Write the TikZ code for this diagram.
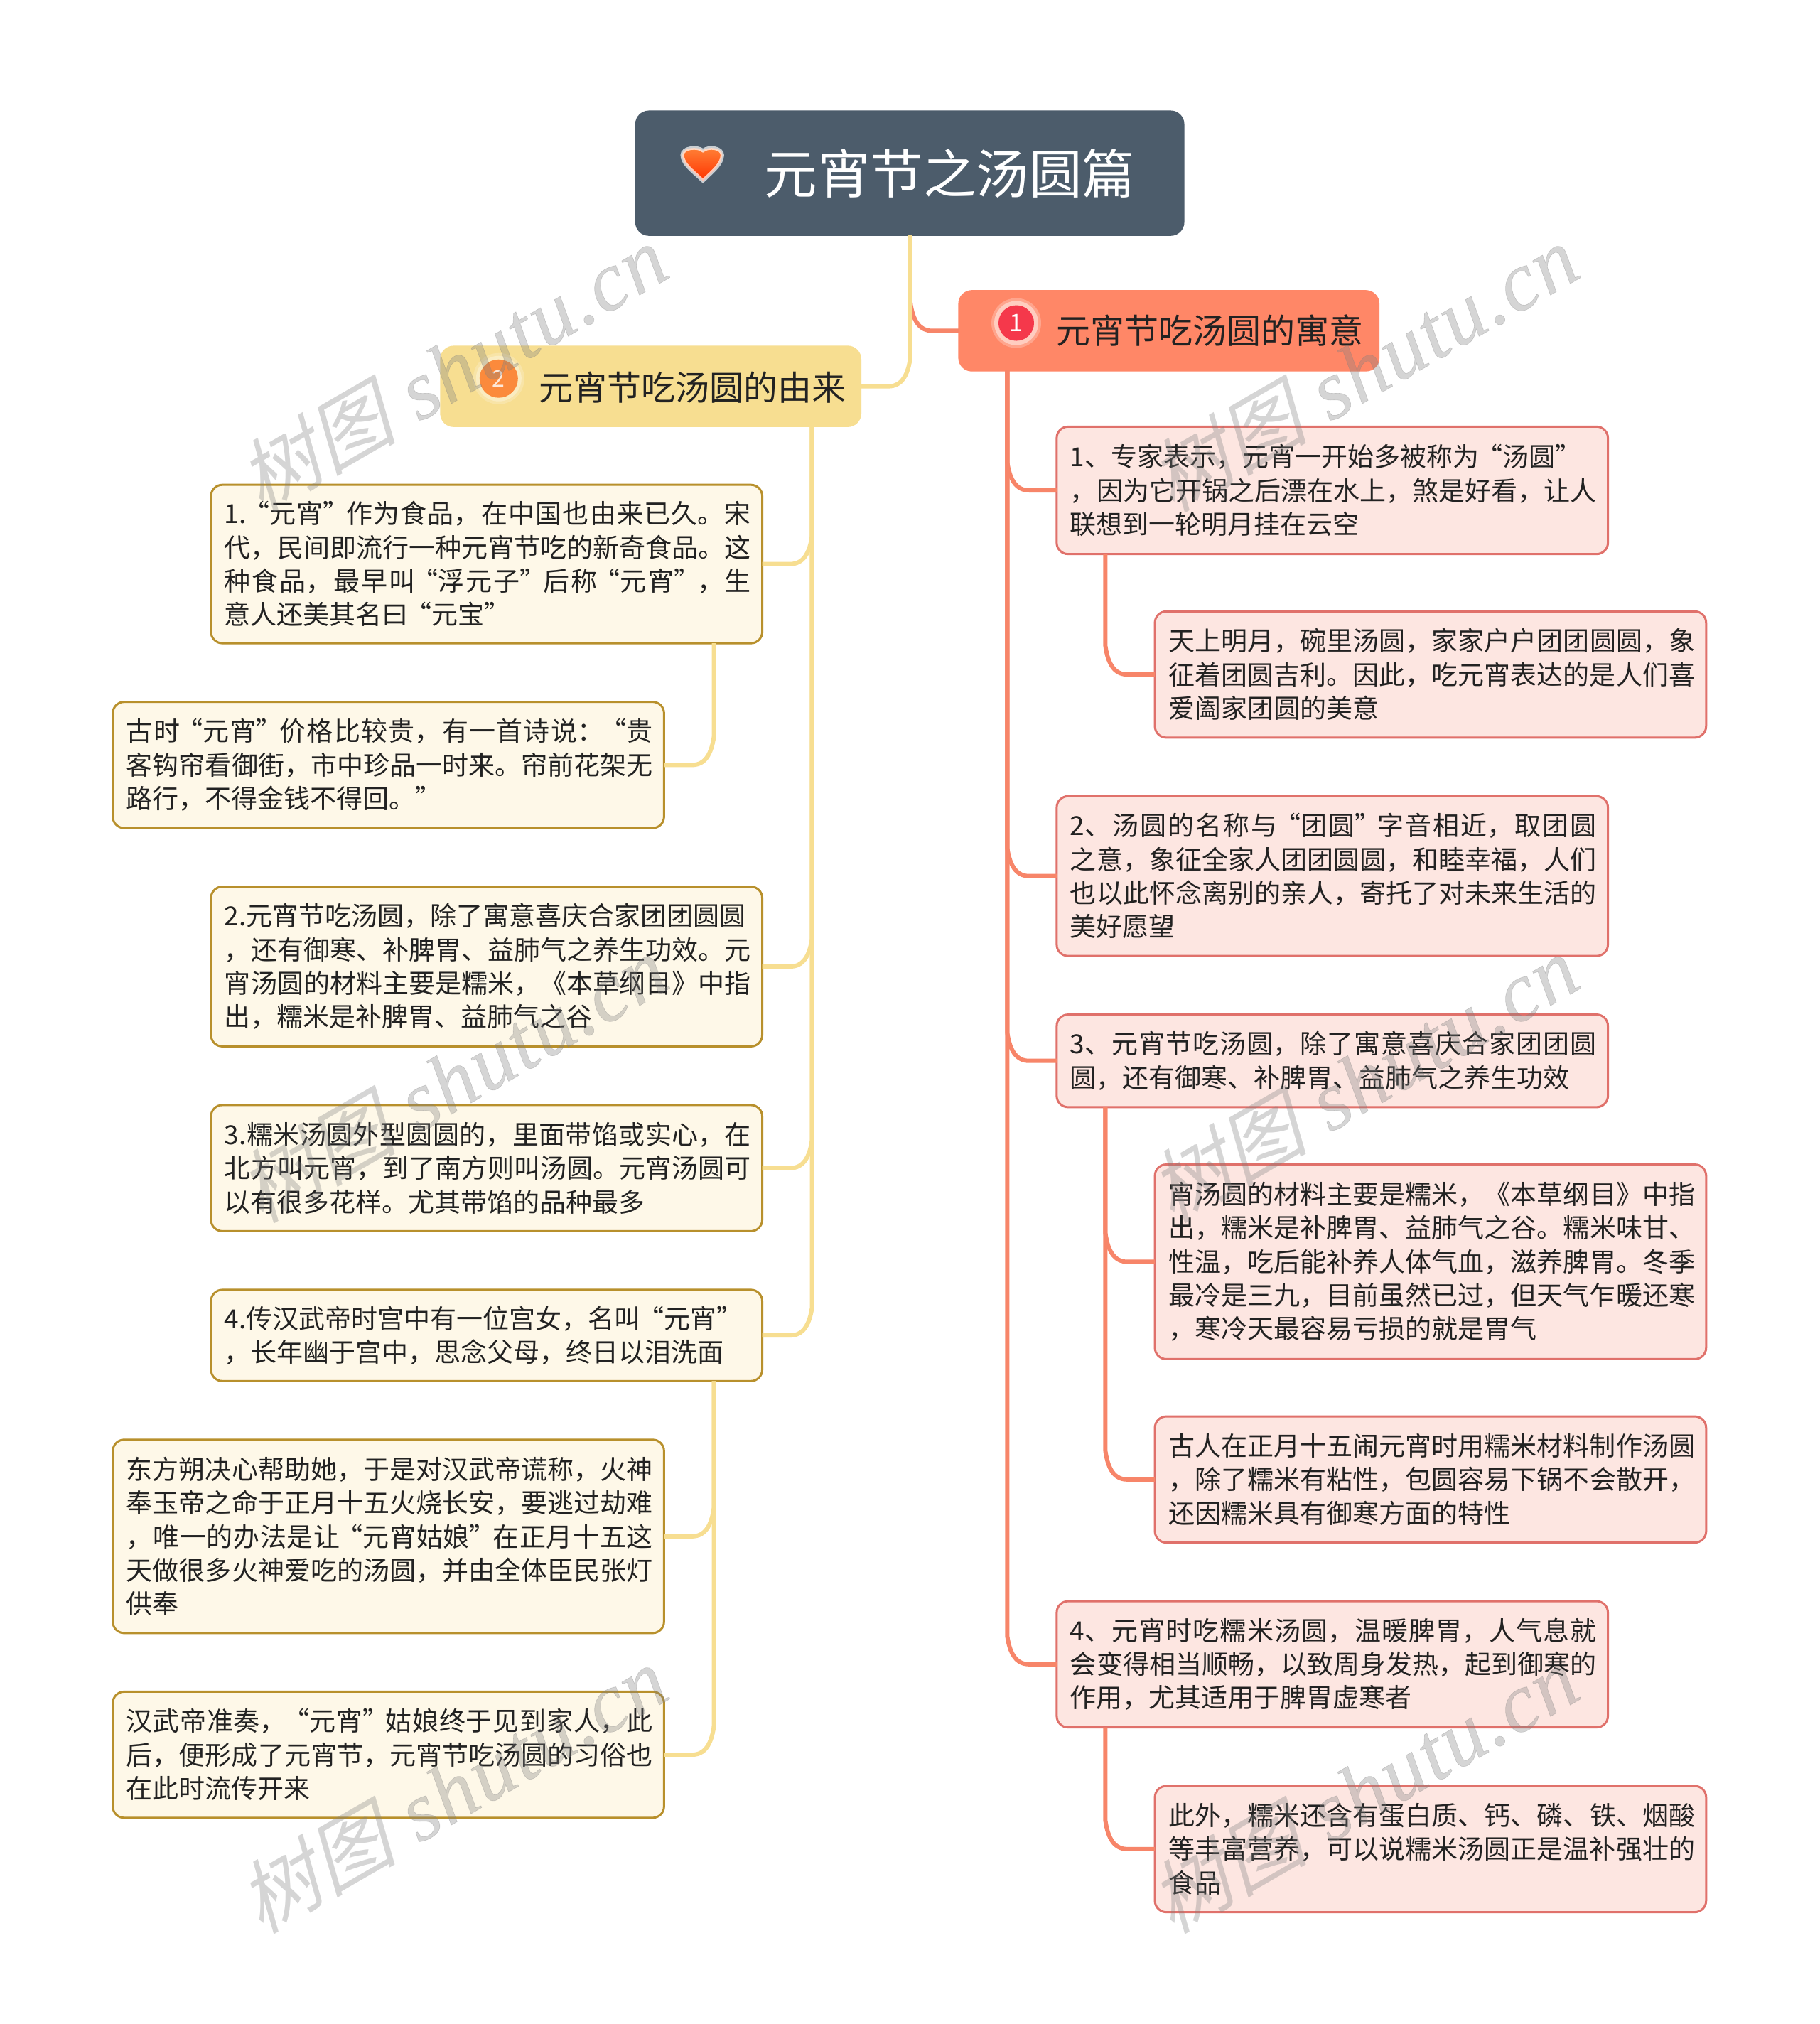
\documentclass[tikz,border=0pt]{standalone}
\usepackage{fontspec}
\usetikzlibrary{calc,shapes.geometric}
\setmainfont{Noto Sans CJK SC}
\newfontfamily\wmcjk[FakeSlant=.25]{Noto Sans CJK SC}
\newfontfamily\wmlat[LetterSpace=2,FakeBold=.5]{Liberation Serif Italic}
\XeTeXlinebreaklocale "zh"
\XeTeXlinebreakskip=0pt plus 2pt minus .4pt
\tolerance=10000 \hbadness=10000 \hfuzz=20pt
\definecolor{rootc}{HTML}{4C5C6B}
\definecolor{redb}{HTML}{FF8767}
\definecolor{yelb}{HTML}{F7DE91}
\definecolor{redf}{HTML}{FDE6E1}
\definecolor{redd}{HTML}{E0716B}
\definecolor{yelf}{HTML}{FEF8E8}
\definecolor{yeld}{HTML}{B8902C}
\definecolor{redl}{HTML}{F78569}
\definecolor{txtc}{HTML}{222222}
\definecolor{icr}{HTML}{F5384B}
\definecolor{ico}{HTML}{FB8A3C}
\newcommand\qo{\kern-.12em“}
\newcommand\qc{”\kern-.12em}
\newcommand\nl{\linebreak}
\newcommand\nn{\newline}
% name, style, left, top, right, bottom, contents (reference units)
\newcommand\bx[7]{%
  \pgfmathsetmacro\bxw{(#5-#3)*1.81818-2.5}%
  \pgfmathsetmacro\bxh{(#6-#4)*1.81818-2.5}%
  \node[#2,minimum width=\bxw pt,minimum height=\bxh pt] (#1) at ({(#3+#5)/2-.4},{(#4+#6)/2-.5}) {#7};}
\newcommand\tb[1]{\kern3.5pt\parbox{741pt}{#1}}
\newcommand\lkr[4]{\draw[#1] (#2.south -| #4) -- ($(#3.west -| #4)+(0,-22)$) .. controls ($(#3.west -| #4)+(2,-8)$) and ($(#3.west -| #4)+(7,0)$) .. ($(#3.west -| #4)+(17,0)$) -- (#3.west);}
\newcommand\lkl[4]{\draw[#1] (#2.south -| #4) -- ($(#3.east -| #4)+(0,-22)$) .. controls ($(#3.east -| #4)+(-2,-8)$) and ($(#3.east -| #4)+(-7,0)$) .. ($(#3.east -| #4)+(-17,0)$) -- (#3.east);}
\tikzset{
  base/.style={rectangle,inner sep=0pt,outer sep=0pt,rounded corners=16pt,line width=3pt,text=txtc,font=\fontsize{37}{47.3}\selectfont},
  rbox/.style={base,fill=redf,draw=redd},
  ybox/.style={base,fill=yelf,draw=yeld},
  rootbox/.style={rectangle,inner sep=0pt,outer sep=0pt,rounded corners=18pt,fill=rootc,draw=rootc,line width=2.5pt},
  redbr/.style={rectangle,inner sep=0pt,outer sep=0pt,rounded corners=18pt,fill=redb,draw=redb,line width=2.5pt},
  yelbr/.style={rectangle,inner sep=0pt,outer sep=0pt,rounded corners=18pt,fill=yelb,draw=yelb,line width=2.5pt},
  ylk/.style={draw=yelb,line width=6pt},
  rlk/.style={draw=redl,line width=6pt},
  wm/.style={rotate=30,text=black!50,opacity=.33,inner sep=0pt},
  ttl/.style={inner sep=0pt,font=\fontsize{48}{56}\selectfont,text=txtc},
  dot/.style={circle,inner sep=0pt,outer sep=0pt},
}
\begin{document}
\begin{tikzpicture}[x=1.81818pt,y=-1.81818pt]
\useasboundingbox (0,0) rectangle (1408,1566.4);
\fill[white] (0,0) rectangle (1408,1566.4);
\coordinate (tkr) at (704.5,0);
\coordinate (tkyb) at (628.5,0);
\coordinate (tkrb) at (779.5,0);
\coordinate (tky2) at (552.5,0);
\coordinate (tkr2) at (855.5,0);
% boxes
\bx{root}{rootbox}{492}{86}{917}{183}{}
\bx{red}{redbr}{742}{225}{1068}{288}{}
\bx{yel}{yelbr}{341}{268}{667}{331}{}
\bx{La}{ybox}{163}{375}{591}{499}{\tb{1.\qo 元宵\qc 作为食品，在中国也由来已久。宋\nl 代，民间即流行一种元宵节吃的新奇食品。这\nl 种食品，最早叫\qo 浮元子\qc 后称\qo 元宵\qc ，生\nl 意人还美其名曰\qo 元宝\qc}}
\bx{Lb}{ybox}{87}{543}{515}{642}{\tb{古时\qo 元宵\qc 价格比较贵，有一首诗说：\qo 贵\nl 客钩帘看御街，市中珍品一时来。帘前花架无\nl 路行，不得金钱不得回。\qc}}
\bx{Lc}{ybox}{163}{686}{591}{811}{\tb{2.元宵节吃汤圆，除了寓意喜庆合家团团圆圆\nn ，还有御寒、补脾胃、益肺气之养生功效。元\nl 宵汤圆的材料主要是糯米，《本草纲目》中指\nl 出，糯米是补脾胃、益肺气之谷}}
\bx{Ld}{ybox}{163}{855}{591}{954}{\tb{3.糯米汤圆外型圆圆的，里面带馅或实心，在\nl 北方叫元宵，到了南方则叫汤圆。元宵汤圆可\nl 以有很多花样。尤其带馅的品种最多}}
\bx{Le}{ybox}{163}{998}{591}{1070}{\tb{4.传汉武帝时宫中有一位宫女，名叫\qo 元宵\qc\nn ，长年幽于宫中，思念父母，终日以泪洗面}}
\bx{Lf}{ybox}{87}{1114}{515}{1265}{\tb{东方朔决心帮助她，于是对汉武帝谎称，火神\nl 奉玉帝之命于正月十五火烧长安，要逃过劫难\nl ，唯一的办法是让\qo 元宵姑娘\qc 在正月十五这\nl 天做很多火神爱吃的汤圆，并由全体臣民张灯\nl 供奉}}
\bx{Lg}{ybox}{87}{1309}{515}{1408}{\tb{汉武帝准奏，\qo 元宵\qc 姑娘终于见到家人，此\nl 后，便形成了元宵节，元宵节吃汤圆的习俗也\nl 在此时流传开来}}
\bx{Ra}{rbox}{817.5}{330}{1245.5}{430}{\tb{1、专家表示，元宵一开始多被称为\qo 汤圆\qc\nn ，因为它开锅之后漂在水上，煞是好看，让人\nl 联想到一轮明月挂在云空}}
\bx{Rb}{rbox}{893.5}{473}{1321.5}{572}{\tb{天上明月，碗里汤圆，家家户户团团圆圆，象\nl 征着团圆吉利。因此，吃元宵表达的是人们喜\nl 爱阖家团圆的美意}}
\bx{Rc}{rbox}{817.5}{616}{1245.5}{741}{\tb{2、汤圆的名称与\qo 团圆\qc 字音相近，取团圆\nl 之意，象征全家人团团圆圆，和睦幸福，人们\nl 也以此怀念离别的亲人，寄托了对未来生活的\nl 美好愿望}}
\bx{Rd}{rbox}{817.5}{785}{1245.5}{858}{\tb{3、元宵节吃汤圆，除了寓意喜庆合家团团圆\nl 圆，还有御寒、补脾胃、益肺气之养生功效}}
\bx{Re}{rbox}{893.5}{901}{1321.5}{1053}{\tb{宵汤圆的材料主要是糯米，《本草纲目》中指\nl 出，糯米是补脾胃、益肺气之谷。糯米味甘、\nl 性温，吃后能补养人体气血，滋养脾胃。冬季\nl 最冷是三九，目前虽然已过，但天气乍暖还寒\nl ，寒冷天最容易亏损的就是胃气}}
\bx{Rf}{rbox}{893.5}{1096}{1321.5}{1195}{\tb{古人在正月十五闹元宵时用糯米材料制作汤圆\nl ，除了糯米有粘性，包圆容易下锅不会散开，\nl 还因糯米具有御寒方面的特性}}
\bx{Rg}{rbox}{817.5}{1239}{1245.5}{1338}{\tb{4、元宵时吃糯米汤圆，温暖脾胃，人气息就\nl 会变得相当顺畅，以致周身发热，起到御寒的\nl 作用，尤其适用于脾胃虚寒者}}
\bx{Rh}{rbox}{893.5}{1382}{1321.5}{1481}{\tb{此外，糯米还含有蛋白质、钙、磷、铁、烟酸\nl 等丰富营养，可以说糯米汤圆正是温补强壮的\nl 食品}}
% titles
\node[inner sep=0pt,text=white,font=\fontsize{74.5}{80}\selectfont] (roott) at (735,134) {元宵节之汤圆篇};
\node[ttl] (redt) at (936.5,256) {元宵节吃汤圆的寓意};
\node[ttl] (yelt) at (536,300) {元宵节吃汤圆的由来};
% icons
\node[dot,fill=white,opacity=.25,minimum size=70pt] (icah) at (786.5,250) {};
\node[dot,fill=white,opacity=.45,minimum size=62pt] (icag) at (786.5,250) {};
\node[dot,fill=icr,minimum size=50pt,text=white,font=\fontsize{34}{36}\selectfont] (ica) at (786.5,250) {1};
\node[dot,fill=white,opacity=.2,minimum size=72pt] (icbh) at (386,293) {};
\node[dot,fill=white,opacity=.3,minimum size=64pt] (icbg) at (386,293) {};
\node[dot,fill=ico,minimum size=54pt,text=white!80!ico,font=\fontsize{32}{34}\selectfont] (icb) at (386,293) {2};
\path[draw=white,draw opacity=.7,line width=5pt,top color=orange!45!redb,bottom color=red!60!orange]
  (544,140) .. controls (537,133) and (528,127) .. (528,120)
  .. controls (528,114) and (540,113) .. (544,116.5)
  .. controls (548,113) and (559,114) .. (559,120)
  .. controls (559,127) and (551,133) .. (544,140) -- cycle;
% connectors
\lkr{rlk}{root}{red}{tkr}
\lkl{ylk}{root}{yel}{tkr}
\lkl{ylk}{yel}{La}{tkyb}
\lkl{ylk}{yel}{Lc}{tkyb}
\lkl{ylk}{yel}{Ld}{tkyb}
\lkl{ylk}{yel}{Le}{tkyb}
\lkl{ylk}{La}{Lb}{tky2}
\lkl{ylk}{Le}{Lf}{tky2}
\lkl{ylk}{Le}{Lg}{tky2}
\lkr{rlk}{red}{Ra}{tkrb}
\lkr{rlk}{red}{Rc}{tkrb}
\lkr{rlk}{red}{Rd}{tkrb}
\lkr{rlk}{red}{Rg}{tkrb}
\lkr{rlk}{Ra}{Rb}{tkr2}
\lkr{rlk}{Rd}{Re}{tkr2}
\lkr{rlk}{Rd}{Rf}{tkr2}
\lkr{rlk}{Rg}{Rh}{tkr2}
% watermarks
\foreach \nm/\wx/\wy in {wa/350/285,wb/1055/285,wc/350/835,wd/1055/835,we/350/1385,wf/1055/1385}{
  \node[wm] (\nm) at (\wx,\wy) {{\fontsize{112}{124}\selectfont\wmcjk 树图}\hspace{32pt}{\fontsize{118}{124}\selectfont\wmlat shutu.cn}};
}
\end{tikzpicture}
\end{document}
